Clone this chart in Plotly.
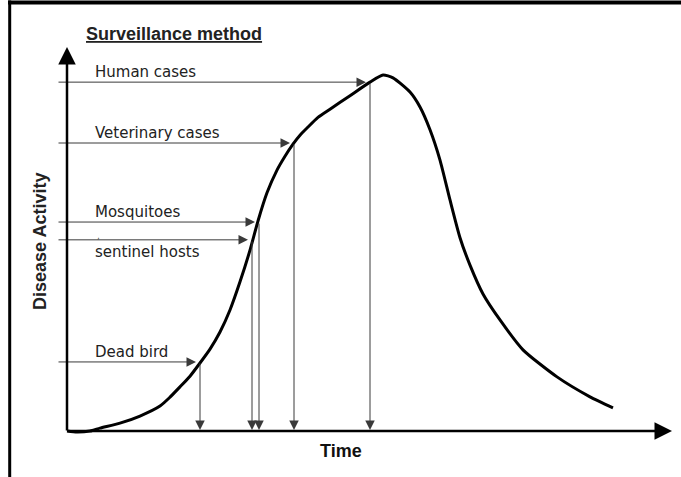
import plotly.graph_objects as go

# ---- data (arbitrary units: time, disease activity 0-100) ----
curve_time = [0.0, 1.0, 2.3, 3.3, 5.3, 7.3, 9.3, 10.3, 11.3, 12.3, 13.3, 14.3, 15.3,
              16.3, 17.3, 18.3, 19.1, 20.0, 21.0, 21.8, 22.6, 23.3, 24.0, 25.1, 26.3,
              28.3, 30.3, 31.6, 32.6, 34.3, 35.3, 36.3, 37.3, 38.3, 39.3, 40.3, 41.6,
              43.3, 45.6, 49.0, 52.3, 54.6]
curve_activity = [0.0, -0.3, 0.0, 0.8, 2.2, 4.2, 7.0, 9.5, 12.4, 15.4, 19.1, 23.0, 27.8,
                  34.0, 41.9, 50.8, 59.0, 66.9, 73.3, 77.2, 80.6, 83.1, 85.1, 88.1, 90.4,
                  94.2, 98.0, 100.0, 99.2, 95.2, 91.0, 84.6, 76.1, 64.9, 54.3, 46.6, 38.5,
                  31.2, 22.8, 15.2, 9.6, 6.5]

methods = ["Human cases", "Veterinary cases", "Mosquitoes", "sentinel hosts", "Dead bird"]
detect_time = [30.3, 22.7, 19.2, 18.5, 13.3]
detect_activity = [98.0, 80.9, 58.7, 53.7, 19.4]
label_side = ["above", "above", "above", "below", "above"]

title_text = "Surveillance method"
x_label = "Time"
y_label = "Disease Activity"

W, H = 681, 477
# axis ranges chosen so that the diagram fills the frame
x_range = [-6.7, 61.4]
y_range = [-12.92, 121.07]

fig = go.Figure()

fig.add_trace(go.Scatter(
    x=curve_time, y=curve_activity, mode="lines",
    line=dict(color="black", width=3, shape="spline", smoothing=0.6),
    hoverinfo="skip", showlegend=False))

ann = []
arrow_col = "#3a3a3a"
line_start = -1.0

for name, t, a, side in zip(methods, detect_time, detect_activity, label_side):
    # horizontal arrow to the curve
    ann.append(dict(x=t, y=a, ax=line_start, ay=a, xref="x", yref="y",
                    axref="x", ayref="y", text="", showarrow=True,
                    arrowhead=2, arrowsize=1.9, arrowwidth=1, arrowcolor=arrow_col,
                    standoff=4))
    # vertical arrow down to the time axis
    ann.append(dict(x=t, y=0, ax=t, ay=a, xref="x", yref="y",
                    axref="x", ayref="y", text="", showarrow=True,
                    arrowhead=2, arrowsize=1.9, arrowwidth=1, arrowcolor=arrow_col,
                    standoff=1))
    ann.append(dict(x=2.6, y=a, xref="x", yref="y", text=name, showarrow=False,
                    xanchor="left", yanchor="middle",
                    yshift=10 if side == "above" else -12,
                    font=dict(family="DejaVu Sans", size=15, color="#222")))

# small comma mark between Mosquitoes and sentinel hosts
ann.append(dict(x=2.8, y=detect_activity[3], xref="x", yref="y", text=",",
                showarrow=False, xanchor="left", yanchor="middle", yshift=4,
                font=dict(family="DejaVu Sans", size=9, color="#555")))

# axes with arrow heads
ann.append(dict(x=0, y=107.9, ax=0, ay=-0.3, xref="x", yref="y", axref="x", ayref="y",
                text="", showarrow=True, arrowhead=2, arrowsize=1.4, arrowwidth=2.5,
                arrowcolor="black"))
ann.append(dict(x=60.5, y=0, ax=-0.1, ay=0, xref="x", yref="y", axref="x", ayref="y",
                text="", showarrow=True, arrowhead=2, arrowsize=1.4, arrowwidth=2.5,
                arrowcolor="black"))

# texts
ann.append(dict(x=1.7, y=111.5, xref="x", yref="y", text="<b><u>" + title_text + "</u></b>",
                showarrow=False, xanchor="left", yanchor="middle",
                font=dict(family="Liberation Sans", size=18, color="#222")))
ann.append(dict(x=40 / W, y=1 - 242 / H, xref="paper", yref="paper",
                text="<b>" + y_label + "</b>", textangle=-90, showarrow=False,
                xanchor="center", yanchor="middle",
                font=dict(family="Liberation Sans", size=18, color="#222")))
ann.append(dict(x=341 / W, y=1 - 451 / H, xref="paper", yref="paper",
                text="<b>" + x_label + "</b>", showarrow=False,
                xanchor="center", yanchor="middle",
                font=dict(family="Liberation Sans", size=18, color="#111")))

shapes = [
    dict(type="line", xref="paper", yref="paper", x0=8 / W, x1=1, y0=1 - 2.5 / H, y1=1 - 2.5 / H,
         line=dict(color="black", width=4)),
    dict(type="line", xref="paper", yref="paper", x0=9.7 / W, x1=9.7 / W, y0=0, y1=1 - 0.5 / H,
         line=dict(color="black", width=3)),
]

fig.update_layout(
    width=W, height=H, margin=dict(l=0, r=0, t=0, b=0),
    paper_bgcolor="white", plot_bgcolor="white",
    xaxis=dict(range=x_range, visible=False, fixedrange=True),
    yaxis=dict(range=y_range, visible=False, fixedrange=True),
    annotations=ann, shapes=shapes, showlegend=False,
)

fig.write_html("out.html", post_script="document.body.style.margin='0';",
               config={"displayModeBar": False})
